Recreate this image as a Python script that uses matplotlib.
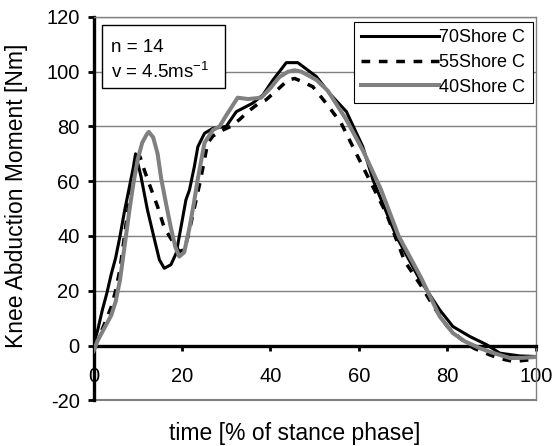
import matplotlib
matplotlib.use("Agg")
import matplotlib.pyplot as plt
from matplotlib.patches import Rectangle

plt.rcParams["font.family"] = ["Liberation Sans", "DejaVu Sans"]
plt.rcParams["axes.unicode_minus"] = False
plt.rcParams["mathtext.fontset"] = "custom"
plt.rcParams["mathtext.rm"] = "Liberation Sans"

# knee abduction moment [Nm] vs % stance phase
x_70 = [0, 1, 2, 3, 4, 5, 6, 7, 8, 9, 9.5, 10.7, 12.2, 13.8, 14.9, 16, 17.5,
        18.7, 19.8, 20.9, 21.7, 22.8, 23.6, 25.1, 27, 30, 32.3, 36, 38.3,
        40.6, 43.6, 46.2, 50.4, 53.4, 57.2, 60.9, 63.2, 68.5, 73.8, 78.3,
        81.3, 85.1, 88.9, 91.9, 96.4, 100]
y_70 = [0, 6, 13, 19, 26, 32, 40, 49, 57, 65, 70, 62, 49.5, 38.6, 31.3, 28.2,
        29.5, 33.7, 43.4, 53.2, 56.8, 65.3, 72.6, 77.5, 79.3, 80, 85.4, 88.5,
        91.5, 97, 103.3, 103.3, 98.2, 92, 85.4, 72.6, 60.5, 39.8, 24, 13,
        6.9, 3.3, 0.3, -2.8, -3.8, -4]

x_55 = [0, 1, 2, 3, 4, 5, 6, 7, 8, 9, 10, 10.5, 11.5, 12.6, 14.5, 16, 17.9,
        19.4, 20.5, 21.4, 22.5, 24, 25, 25.8, 27, 29, 31, 33, 35, 37, 39, 42,
        44, 45.5, 47, 49.6, 52.6, 56, 60.9, 66.2, 70.4, 74, 77, 80, 83, 86,
        89.6, 92, 94.9, 97, 100]
y_55 = [0, 3, 6, 10, 14, 20, 28, 40, 52, 62, 68, 69, 64, 59, 50.7, 43, 38,
        34.3, 35, 40, 48, 59, 67, 73.9, 76.5, 78.5, 80, 82.5, 85.5, 88, 89.7,
        94, 97, 97.5, 96.5, 94.5, 88.5, 81.2, 65.3, 48.3, 30.7, 22, 14, 7,
        2.5, -1, -3.4, -4.8, -5.8, -5.5, -5]

x_40 = [0, 1, 2, 3, 4, 5, 6, 7, 8, 9, 10, 11, 12, 12.5, 13.5, 14.5, 15.3,
        16.5, 17.5, 18.5, 19.4, 20.5, 21.7, 22.7, 23.6, 25.1, 27, 28.5, 30,
        32.6, 35, 37.9, 40, 42, 44, 45.5, 47, 50.4, 53, 57.2, 61, 65, 69, 74,
        78.3, 81.3, 84, 87.4, 90, 94.2, 97, 100]
y_40 = [-2, 2, 5, 8, 11, 16, 24, 36, 48, 59, 68, 74, 77, 78, 76, 70, 61, 51,
        43, 36, 32.5, 34, 43, 52, 61, 74, 78.7, 80, 84, 90.5, 90, 90.5, 94,
        98, 100, 100.5, 100, 97, 93, 82.4, 71, 57, 40, 25, 10.6, 4.5, 1.5,
        -1, -2.5, -4.6, -4.5, -4.2]

labels = ["70Shore C", "55Shore C", "40Shore C"]
x_ticks = [0, 20, 40, 60, 80, 100]
y_ticks = [-20, 0, 20, 40, 60, 80, 100, 120]

grey = "#808080"

fig = plt.figure(figsize=(5.53, 4.46), dpi=100)
ax = fig.add_axes([0.1691, 0.1025, 0.7996, 0.8596])

ax.plot(x_70, y_70, color="black", lw=2.2, label=labels[0], zorder=3)
ax.plot(x_55, y_55, color="black", lw=2.5, linestyle=(0, (2.5, 2.5)),
        label=labels[1], zorder=3)
ax.plot(x_40, y_40, color=grey, lw=2.9, label=labels[2], zorder=3)

ax.set_xlim(0, 100)
ax.set_ylim(-20, 120)
ax.set_xticks(x_ticks)
ax.set_yticks(y_ticks)
ax.yaxis.grid(True, color=grey, lw=1.0)
ax.set_axisbelow(True)
ax.axhline(-20, color=grey, lw=1.5, clip_on=False, zorder=1)

ax.spines["bottom"].set_position(("data", 0))
ax.spines["bottom"].set_linewidth(2.4)
ax.spines["left"].set_linewidth(2.4)
ax.spines["top"].set_color(grey)
ax.spines["right"].set_color(grey)
ax.spines["top"].set_linewidth(1.0)
ax.spines["right"].set_linewidth(1.0)

ax.tick_params(axis="x", direction="out", length=3.5, width=2, pad=12,
               labelsize=14.5)
ax.tick_params(axis="y", direction="out", length=4, width=2, pad=6,
               labelsize=14.5)

fig.text(295 / 553, 1 - 440 / 446, "time [% of stance phase]",
         ha="center", va="baseline", fontsize=16.5)
fig.text(17 / 553, 1 - 195.5 / 446, "Knee Abduction Moment [Nm]",
         rotation=90, ha="center", va="center", fontsize=16.5)

# n / v box
ax.add_patch(Rectangle((0.019, 0.8154), 0.2794, 0.1635, transform=ax.transAxes,
                       facecolor="white", edgecolor="black", lw=1.0, zorder=5))
ax.text(0.0394, 0.9077, "n = 14", transform=ax.transAxes, fontsize=13.5,
        va="baseline", zorder=6)
ax.text(0.0394, 0.8399, r"v = 4.5ms$\mathregular{^{-1}}$", transform=ax.transAxes,
        fontsize=13.5, va="baseline", zorder=6)

leg = ax.legend(loc="upper right", bbox_to_anchor=(0.9932, 0.9875),
                fontsize=13, handlelength=4.3, handletextpad=0.05,
                labelspacing=0.44, borderpad=0.4, borderaxespad=0,
                fancybox=False, framealpha=1, edgecolor="black")
leg.get_frame().set_linewidth(0.8)
leg.set_zorder(6)

fig.savefig("out.png", dpi=100)
